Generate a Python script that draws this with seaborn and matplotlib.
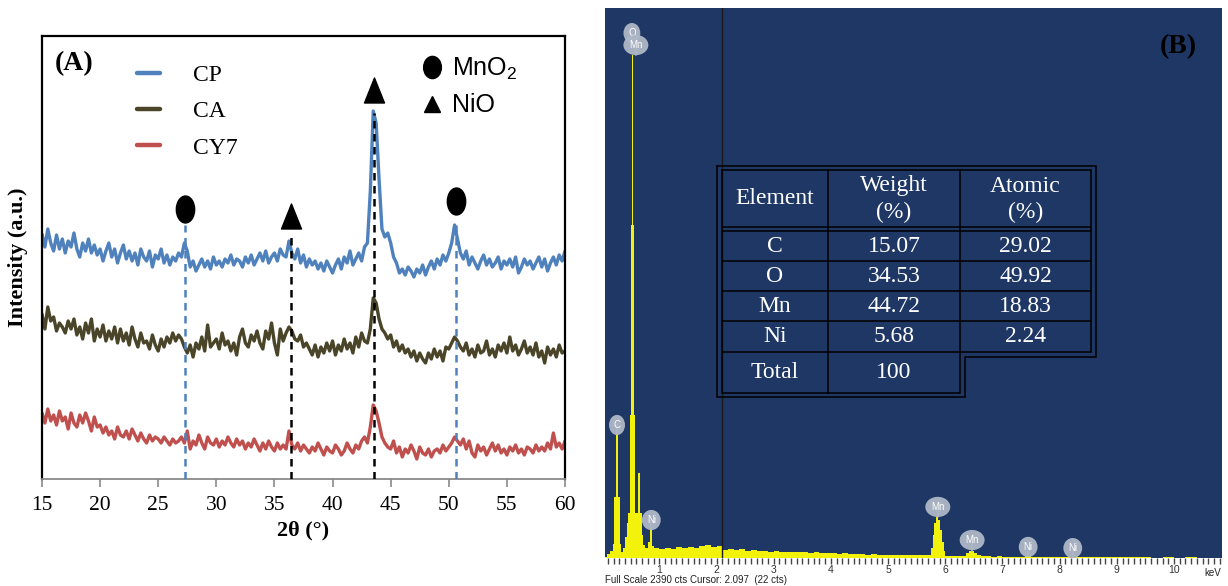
import numpy as np
import pandas as pd
import matplotlib
matplotlib.use("Agg")
import matplotlib.pyplot as plt
from matplotlib.lines import Line2D
from matplotlib.path import Path
import seaborn as sns

# ---------------- Panel A: XRD data ----------------
two_theta_start = 15.0
two_theta_step = 0.25
sample_names = ["CP", "CA", "CY7"]
sample_colors = ["#4f81bd", "#4a4529", "#c0504d"]

cp = [245, 232, 250, 236, 228, 244, 230, 240, 226, 238, 232, 246, 230, 222, 236, 228,
      240, 226, 234, 224, 230, 218, 228, 236, 222, 230, 216, 226, 234, 220, 228, 218,
      226, 214, 230, 222, 218, 228, 212, 224, 220, 230, 216, 224, 214, 222, 218, 226,
      222, 236, 228, 212, 218, 208, 214, 220, 212, 218, 210, 222, 214, 218, 212, 220,
      216, 224, 214, 220, 218, 212, 222, 216, 224, 214, 220, 226, 218, 228, 216, 222,
      226, 218, 230, 224, 222, 238, 226, 220, 230, 216, 224, 212, 220, 214, 218, 210,
      216, 208, 218, 212, 206, 214, 220, 210, 222, 216, 228, 214, 220, 226, 218, 232,
      236, 288, 368, 356, 300, 250, 242, 246, 236, 222, 216, 206, 210, 204, 212, 208,
      202, 210, 206, 214, 204, 212, 218, 210, 220, 214, 224, 218, 226, 236, 254, 240,
      226, 220, 228, 214, 222, 216, 210, 218, 224, 214, 220, 212, 216, 222, 210, 218,
      214, 220, 212, 222, 206, 212, 220, 214, 218, 210, 216, 222, 212, 220, 208, 216,
      222, 214, 224, 218, 228]
ca = [165, 150, 172, 158, 162, 148, 156, 152, 146, 158, 150, 160, 144, 152, 140, 156,
      146, 160, 138, 150, 142, 154, 138, 148, 140, 152, 136, 150, 138, 146, 134, 152,
      140, 132, 146, 136, 138, 130, 144, 134, 128, 140, 132, 142, 136, 146, 138, 144,
      140, 132, 126, 134, 122, 136, 130, 142, 128, 154, 132, 136, 140, 130, 146, 134,
      138, 128, 136, 124, 142, 150, 136, 132, 144, 138, 148, 136, 130, 148, 140, 156,
      136, 124, 150, 138, 146, 152, 148, 140, 138, 144, 132, 136, 130, 124, 134, 122,
      132, 126, 136, 128, 138, 124, 134, 128, 140, 130, 136, 126, 142, 132, 146, 138,
      136, 150, 181, 176, 160, 150, 146, 140, 144, 132, 138, 128, 134, 126, 130, 122,
      128, 118, 126, 120, 116, 126, 120, 130, 122, 128, 118, 132, 130, 136, 142, 138,
      132, 128, 136, 124, 130, 122, 134, 126, 128, 138, 124, 130, 122, 134, 128, 136,
      126, 142, 128, 134, 124, 130, 138, 126, 132, 124, 136, 122, 128, 116, 132, 124,
      130, 122, 134, 126, 128]
cy7 = [66, 56, 70, 58, 64, 54, 68, 58, 62, 50, 66, 56, 52, 64, 56, 66,
       58, 48, 62, 52, 54, 46, 52, 44, 48, 40, 52, 44, 42, 48, 40, 50,
       44, 38, 46, 40, 36, 44, 38, 42, 40, 36, 42, 38, 34, 40, 36, 38,
       42, 36, 48, 30, 38, 34, 44, 36, 30, 42, 36, 34, 40, 32, 38, 34,
       42, 36, 32, 40, 34, 38, 30, 36, 32, 40, 34, 28, 36, 30, 38, 32,
       28, 36, 30, 34, 30, 48, 34, 30, 36, 28, 34, 30, 26, 32, 28, 36,
       30, 24, 32, 28, 26, 34, 30, 24, 28, 36, 30, 26, 34, 30, 38, 42,
       36, 52, 74, 68, 56, 42, 36, 32, 30, 38, 26, 32, 22, 30, 26, 34,
       28, 20, 32, 26, 24, 30, 22, 28, 30, 26, 34, 28, 32, 36, 42, 38,
       34, 40, 30, 38, 26, 22, 34, 28, 32, 24, 30, 36, 28, 34, 26, 30,
       24, 32, 28, 34, 26, 30, 24, 32, 30, 26, 34, 28, 32, 28, 36, 30,
       46, 32, 36, 30, 38]

phase_labels = ["MnO$_2$", "NiO"]
mno2_peaks = [27.3, 50.6]
mno2_marker_y = [270, 278]
mno2_line_top = [254, 254]
nio_peaks = [36.4, 43.6]
nio_marker_y = [263, 389]
nio_line_top = [247, 366]
xrd_ticks = [15, 20, 25, 30, 35, 40, 45, 50, 55, 60]

# ---------------- Panel B: EDS data ----------------
eds_energy = [0.00, 0.08, 0.14, 0.19, 0.21, 0.25, 0.285, 0.31, 0.33, 0.37, 0.40, 0.43, 0.45,
              0.48, 0.50, 0.515, 0.525, 0.54, 0.55, 0.58, 0.62, 0.665, 0.69, 0.71, 0.75,
              0.80, 0.83, 0.88,
              0.90, 1.0, 1.1, 1.2, 1.3, 1.4, 1.5, 1.6, 1.7, 1.8, 1.9, 2.0, 2.1, 2.2, 2.3,
              2.4, 2.5, 2.6, 2.7, 2.8, 2.9, 3.0, 3.1, 3.2, 3.3, 3.4, 3.5, 3.6, 3.7, 3.8,
              3.9, 4.0, 4.1, 4.2, 4.3, 4.4, 4.5, 4.6, 4.7, 4.8, 4.9, 5.0, 5.1, 5.2, 5.3,
              5.4, 5.5, 5.6,
              5.7, 5.75, 5.78, 5.81, 5.84, 5.88, 5.91, 5.94, 5.97, 6.0, 6.1, 6.2, 6.3,
              6.36, 6.42, 6.50, 6.56, 6.62, 6.7, 6.8, 6.9, 7.0, 7.1, 7.2, 7.3, 7.4, 7.5,
              7.6, 7.7, 7.8, 7.9, 8.0, 8.1, 8.2, 8.3, 8.4, 8.5, 8.6, 8.7, 8.8, 8.9, 9.0,
              9.2, 9.4, 9.6, 9.8, 10.0, 10.2, 10.4, 10.6, 10.84]
eds_counts = [5, 18, 30, 60, 265, 543, 265, 60, 28, 42, 90, 150, 196,
              621, 1447, 1929, 2185, 1447, 621, 196, 369, 196, 100, 55, 45,
              70, 130, 50,
              42, 40, 44, 41, 46, 43, 48, 44, 52, 58, 47, 54, 36, 40, 34,
              38, 32, 35, 30, 32, 28, 30, 26, 28, 25, 24, 26, 22, 24, 21,
              22, 20, 18, 20, 17, 18, 16, 15, 17, 14, 15, 13, 14, 12, 13,
              11, 15, 12,
              13, 45, 100, 150, 178, 165, 120, 70, 30, 10, 9, 8, 10,
              20, 30, 22, 12, 8, 7, 6, 7, 6, 5, 6, 5, 7, 6,
              4, 5, 6, 4, 5, 4, 6, 4, 3, 4, 3, 4, 3, 3, 3,
              3, 3, 2, 3, 2, 3, 2, 2, 2]

peak_label_names = ["O", "Mn", "C", "Ni", "Mn", "Mn", "Ni", "Ni"]
peak_label_energy = [0.52, 0.59, 0.26, 0.86, 5.87, 6.47, 7.45, 8.23]
peak_label_counts = [2281, 2229, 578, 165, 222, 78, 48, 43]
peak_tip_counts = [2229, 2185, 543, 130, 178, 30, 8, 6]

kev_ticks = [1, 2, 3, 4, 5, 6, 7, 8, 9, 10]
full_scale_cts = 2390
cursor_kev = 2.097
cursor_cts = 22

table_elements = ["C", "O", "Mn", "Ni"]
table_weight = [15.07, 34.53, 44.72, 5.68]
table_atomic = [29.02, 49.92, 18.83, 2.24]
table_total_weight = 100

# ---------------- style ----------------
sns.set_style("white")
plt.rcParams["font.family"] = ["Liberation Serif", "DejaVu Serif"]
plt.rcParams["mathtext.fontset"] = "custom"
plt.rcParams["mathtext.rm"] = "Liberation Sans"
plt.rcParams["text.color"] = "black"
plt.rcParams["axes.labelcolor"] = "black"
plt.rcParams["xtick.color"] = "black"
plt.rcParams["ytick.color"] = "black"

W, H = 1228, 586
fig = plt.figure(figsize=(W / 100, H / 100), dpi=100)
fig.patch.set_facecolor("white")


def rect(x0, y0, x1, y1):
    return [x0 / W, 1 - y1 / H, (x1 - x0) / W, (y1 - y0) / H]


# ================= Panel A =================
axA = fig.add_axes(rect(42, 36, 565, 479))
two_theta = two_theta_start + two_theta_step * np.arange(len(cp))
df = pd.DataFrame({
    "two_theta": np.tile(two_theta, 3),
    "intensity": np.concatenate([cp, ca, cy7]),
    "sample": np.repeat(sample_names, len(two_theta)),
})
palette = dict(zip(sample_names, sample_colors))
sns.lineplot(data=df, x="two_theta", y="intensity", hue="sample", hue_order=sample_names,
             palette=palette, linewidth=2.4, estimator=None, sort=False, ax=axA, legend=False)

axA.vlines(mno2_peaks, 0, mno2_line_top, colors="#4f81bd", linestyles=(0, (3, 2.2)), lw=1.8, zorder=4)
axA.vlines(nio_peaks, 0, nio_line_top, colors="black", linestyles=(0, (3, 2.2)), lw=1.8, zorder=4)

ell = Path.unit_circle()
ellipse_marker = Path(ell.vertices * np.array([0.68, 1.0]), ell.codes)
ellipse_marker_leg = Path(ell.vertices * np.array([0.8, 1.0]), ell.codes)
tri_marker = Path([(0, 1), (-0.8, -1), (0.8, -1), (0, 1)], closed=True)

axA.plot(mno2_peaks, mno2_marker_y, ls="none", marker=ellipse_marker, ms=19.4, color="black", zorder=5)
axA.plot(nio_peaks, nio_marker_y, ls="none", marker=tri_marker, ms=18, color="black", zorder=5)

axA.set_xlim(15, 60)
axA.set_ylim(0, 443)
axA.set_xticks(xrd_ticks)
axA.set_yticks([])
axA.tick_params(axis="x", which="major", bottom=True, direction="out", length=6, width=1.2,
                color="#8a8a8a", labelcolor="black", labelsize=15.5, pad=6)
for s in ["left", "top", "right"]:
    axA.spines[s].set_color("black")
    axA.spines[s].set_linewidth(1.6)
axA.spines["bottom"].set_color("#8a8a8a")
axA.spines["bottom"].set_linewidth(1.3)
axA.set_xlabel("2θ (°)", fontsize=16, fontweight="bold", labelpad=4, color="black")
axA.set_ylabel("Intensity (a.u.)", fontsize=16, fontweight="bold", labelpad=10, color="black")
axA.text(0.025, 0.937, "(A)", transform=axA.transAxes, fontsize=20, fontweight="bold",
         ha="left", va="center", color="black")

handles = [Line2D([], [], color=c, lw=3.2) for c in sample_colors]
leg1 = axA.legend(handles, sample_names, loc="upper left", bbox_to_anchor=(0.182, 0.935),
                  frameon=False, fontsize=17, handlelength=0.95, handletextpad=1.4,
                  labelspacing=0.62, borderpad=0, borderaxespad=0, labelcolor="black")
axA.add_artist(leg1)
ph_handles = [Line2D([], [], ls="none", marker=ellipse_marker_leg, ms=16, color="black"),
              Line2D([], [], ls="none", marker="^", ms=11, color="black")]
leg2 = axA.legend(ph_handles, phase_labels, loc="upper left", bbox_to_anchor=(0.722, 0.955),
                  frameon=False, handlelength=1.0, handletextpad=0.3, labelspacing=0.45,
                  borderpad=0, borderaxespad=0, labelcolor="black",
                  prop={"family": ["Liberation Sans", "DejaVu Sans"], "size": 18})

# ================= Panel B =================
axB = fig.add_axes(rect(605, 8, 1222, 558))
axB.set_facecolor("#1e3764")
axB.fill_between(eds_energy, eds_counts, step="post", color="#f2f20a", lw=0, zorder=2)
axB.axvline(cursor_kev, color="#1a1a1a", lw=1.0, zorder=3)
axB.set_xlim(0.05, 10.84)
axB.set_ylim(0, full_scale_cts)
axB.set_yticks([])
axB.set_xticks(kev_ticks)
axB.set_xticks(np.arange(0.1, 10.84, 0.1), minor=True)
axB.set_xticklabels([str(k) for k in kev_ticks], fontsize=7.5, color="#333333",
                    fontfamily="Liberation Sans")
axB.tick_params(axis="x", which="both", bottom=True, direction="out", length=4, width=1.0,
                color="#444444", pad=1)
for s in axB.spines.values():
    s.set_visible(False)

for name, xe, yl, yt in zip(peak_label_names, peak_label_energy, peak_label_counts, peak_tip_counts):
    axB.plot([xe, xe], [yt, yl], color="#aab2c2", lw=1.2, zorder=4)
    axB.text(xe, yl, name, fontsize=7, color="white", ha="center", va="center",
             fontfamily="Liberation Sans", zorder=5,
             bbox=dict(boxstyle="ellipse,pad=0.22", fc="#aeb7c6", ec="none", alpha=0.95))

fig.text(605 / W, 1 - 580 / H,
         f"Full Scale {full_scale_cts} cts Cursor: {cursor_kev:.3f}  ({cursor_cts} cts)",
         fontsize=7, family="Liberation Sans", color="#222222", ha="left", va="center")
fig.text(1221 / W, 1 - 573 / H, "keV", fontsize=7, family="Liberation Sans",
         color="#222222", ha="right", va="center")
fig.text(1178 / W, 1 - 47 / H, "(B)", fontsize=20, fontweight="bold", ha="center",
         va="center", color="black")

# ---- table overlay (pixel coordinates) ----
ov = fig.add_axes([0, 0, 1, 1], zorder=10)
ov.set_xlim(0, W)
ov.set_ylim(H, 0)
ov.axis("off")
ov.patch.set_alpha(0)
lc = dict(color="black", lw=1.1, solid_joinstyle="miter")
x_l_o, x_l_i = 717, 722
x_r_o, x_r_i = 1096, 1091
x_s_o, x_s_i = 965, 960
y_t_o, y_t_i = 166, 170
y_b_o, y_b_i = 397, 393
y_step_o, y_step_i = 357, 352
ov.plot([x_l_o, x_r_o, x_r_o, x_s_o, x_s_o, x_l_o, x_l_o],
        [y_t_o, y_t_o, y_step_o, y_step_o, y_b_o, y_b_o, y_t_o], **lc)
ov.plot([x_l_i, x_r_i, x_r_i, x_s_i, x_s_i, x_l_i, x_l_i],
        [y_t_i, y_t_i, y_step_i, y_step_i, y_b_i, y_b_i, y_t_i], **lc)
col_x = [x_l_i, 828, x_s_i, x_r_i]
header_bot = [227, 231]
row_edges = [231, 261, 291, 321, 352, 393]
ov.plot([828, 828], [y_t_i, y_b_i], **lc)
ov.plot([x_s_i, x_s_i], [y_t_i, y_step_i], **lc)
for yy in header_bot + row_edges[1:4]:
    ov.plot([x_l_i, x_r_i], [yy, yy], **lc)
ov.plot([x_l_i, x_s_i], [row_edges[4], row_edges[4]], **lc)

col_c = [(col_x[i] + col_x[i + 1]) / 2 for i in range(3)]
tkw = dict(color="white", fontsize=17, ha="center", va="center")
ov.text(col_c[0], 199, "Element", **tkw)
ov.text(col_c[1], 186, "Weight", **tkw)
ov.text(col_c[1], 212, "(%)", **tkw)
ov.text(col_c[2], 186, "Atomic", **tkw)
ov.text(col_c[2], 212, "(%)", **tkw)
for i, (el, wv, av) in enumerate(zip(table_elements, table_weight, table_atomic)):
    yc = (row_edges[i] + row_edges[i + 1]) / 2
    ov.text(col_c[0], yc, el, **tkw)
    ov.text(col_c[1], yc, f"{wv:.2f}", **tkw)
    ov.text(col_c[2], yc, f"{av:.2f}", **tkw)
yc = (row_edges[4] + row_edges[5]) / 2
ov.text(col_c[0], yc, "Total", **tkw)
ov.text(col_c[1], yc, f"{table_total_weight}", **tkw)

fig.savefig("out.png", dpi=100)
